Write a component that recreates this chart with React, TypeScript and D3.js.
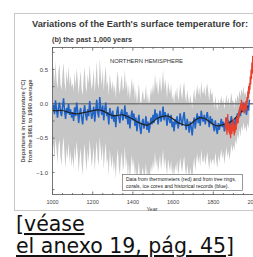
import React, { useEffect, useRef } from 'react';
import * as d3 from 'd3';

// proxy reconstruction, every 5 years 1000-1980
const proxyYears = d3.range(1000, 1981, 5);
const proxyTemp = [
  -0.10, -0.02, -0.15, 0.05, -0.08, -0.20, -0.05, 0.02, -0.12, -0.18, -0.04, 0.08, -0.10, -0.22, -0.06, -0.14, 0.00, -0.16, -0.08, -0.20,
  -0.12, -0.25, -0.05, -0.18, 0.02, -0.10, -0.28, -0.14, -0.06, -0.20, -0.30, -0.12, -0.02, -0.16, -0.24, -0.08, -0.18, 0.04, -0.10, -0.22,
  -0.14, -0.04, -0.26, -0.10, 0.06, -0.12, -0.20, 0.10, -0.06, -0.16, -0.02, -0.24, -0.08, 0.02, -0.18, -0.12, -0.30, -0.06, -0.14, -0.22,
  -0.10, -0.26, -0.16, -0.34, -0.12, -0.04, -0.20, -0.28, -0.14, -0.08, -0.24, -0.18, -0.02, -0.22, -0.12, -0.30, -0.16, -0.36, -0.20, -0.10,
  -0.24, -0.14, -0.32, -0.20, -0.40, -0.26, -0.16, -0.34, -0.44, -0.28, -0.22, -0.36, -0.30, -0.18, -0.38, -0.26, -0.42, -0.32, -0.20, -0.30,
  -0.16, -0.28, -0.08, -0.22, -0.14, -0.30, -0.20, -0.10, -0.26, -0.18, -0.04, -0.24, -0.12, -0.20, -0.32, -0.14, -0.22, -0.28, -0.16, -0.34,
  -0.26, -0.40, -0.22, -0.30, -0.18, -0.36, -0.28, -0.14, -0.24, -0.32, -0.20, -0.12, -0.28, -0.38, -0.22, -0.30, -0.42, -0.26, -0.34, -0.46,
  -0.30, -0.20, -0.36, -0.24, -0.14, -0.28, -0.18, -0.32, -0.10, -0.22, -0.26, -0.16, -0.30, -0.20, -0.12, -0.24, -0.34, -0.18, -0.28, -0.22,
  -0.32, -0.40, -0.24, -0.36, -0.44, -0.28, -0.38, -0.30, -0.22, -0.34, -0.26, -0.40, -0.30, -0.20, -0.32, -0.24, -0.36, -0.28, -0.18, -0.30,
  -0.26, -0.34, -0.20, -0.28, -0.14, -0.22, -0.08, -0.18, -0.04, -0.12, 0.02, -0.10, -0.06, -0.16, -0.02, -0.10, 0.06,
];
const rangeHigh = [
  0.40, 0.55, 0.30, 0.62, 0.35, 0.22, 0.48, 0.58, 0.28, 0.20, 0.45, 0.60, 0.32, 0.18, 0.50, 0.30, 0.56, 0.26, 0.42, 0.24,
  0.30, 0.18, 0.46, 0.24, 0.52, 0.36, 0.14, 0.32, 0.48, 0.22, 0.12, 0.38, 0.54, 0.26, 0.16, 0.44, 0.28, 0.58, 0.34, 0.20,
  0.32, 0.50, 0.16, 0.36, 0.62, 0.30, 0.22, 0.66, 0.42, 0.26, 0.52, 0.18, 0.40, 0.56, 0.24, 0.34, 0.12, 0.44, 0.30, 0.20,
  0.34, 0.16, 0.28, 0.08, 0.36, 0.48, 0.24, 0.14, 0.32, 0.42, 0.18, 0.26, 0.50, 0.20, 0.34, 0.10, 0.28, 0.06, 0.22, 0.38,
  0.18, 0.32, 0.06, 0.22, 0.00, 0.14, 0.30, 0.08, -0.04, 0.12, 0.20, 0.04, 0.10, 0.28, 0.02, 0.16, -0.02, 0.10, 0.24, 0.12,
  0.30, 0.14, 0.44, 0.22, 0.34, 0.12, 0.24, 0.40, 0.16, 0.28, 0.50, 0.20, 0.36, 0.26, 0.08, 0.32, 0.22, 0.14, 0.30, 0.06,
  0.14, 0.00, 0.20, 0.10, 0.26, 0.04, 0.12, 0.30, 0.16, 0.06, 0.22, 0.32, 0.12, 0.02, 0.20, 0.10, -0.02, 0.14, 0.04, -0.06,
  0.10, 0.22, 0.04, 0.16, 0.28, 0.12, 0.24, 0.08, 0.32, 0.18, 0.14, 0.26, 0.10, 0.22, 0.30, 0.16, 0.04, 0.24, 0.12, 0.18,
  0.04, -0.06, 0.12, 0.00, -0.10, 0.08, -0.04, 0.04, 0.12, 0.00, 0.08, -0.08, 0.02, 0.14, 0.00, 0.10, -0.04, 0.06, 0.16, 0.04,
  0.04, -0.06, 0.10, 0.02, 0.14, 0.06, 0.20, 0.10, 0.22, 0.14, 0.26, 0.12, 0.18, 0.08, 0.22, 0.14, 0.28,
];
const rangeLow = [
  -0.70, -0.58, -0.82, -0.50, -0.66, -0.88, -0.60, -0.52, -0.78, -0.90, -0.62, -0.48, -0.74, -0.94, -0.64, -0.80, -0.56, -0.86, -0.68, -0.92,
  -0.76, -0.96, -0.62, -0.84, -0.54, -0.72, -1.00, -0.80, -0.64, -0.88, -1.04, -0.74, -0.58, -0.82, -0.98, -0.66, -0.86, -0.52, -0.70, -0.92,
  -0.78, -0.62, -0.98, -0.74, -0.54, -0.80, -0.90, -0.48, -0.68, -0.84, -0.60, -0.96, -0.72, -0.56, -0.88, -0.78, -1.06, -0.66, -0.82, -0.94,
  -0.74, -1.00, -0.84, -1.10, -0.80, -0.66, -0.92, -1.04, -0.82, -0.70, -0.98, -0.88, -0.62, -0.94, -0.78, -1.08, -0.86, -1.14, -0.90, -0.74,
  -0.94, -0.80, -1.06, -0.92, -1.16, -0.98, -0.84, -1.08, -1.20, -1.00, -0.92, -1.10, -1.02, -0.86, -1.12, -0.96, -1.18, -1.04, -0.88, -1.00,
  -0.82, -0.96, -0.70, -0.92, -0.80, -1.00, -0.88, -0.74, -0.96, -0.84, -0.66, -0.94, -0.78, -0.90, -1.04, -0.80, -0.90, -0.98, -0.82, -1.04,
  -0.92, -1.08, -0.88, -0.98, -0.82, -1.04, -0.94, -0.78, -0.90, -1.00, -0.86, -0.76, -0.94, -1.06, -0.88, -0.98, -1.10, -0.92, -1.02, -1.14,
  -0.90, -0.78, -0.98, -0.84, -0.72, -0.88, -0.76, -0.92, -0.66, -0.82, -0.86, -0.74, -0.90, -0.80, -0.70, -0.84, -0.96, -0.78, -0.88, -0.82,
  -0.80, -0.90, -0.70, -0.84, -0.94, -0.74, -0.86, -0.76, -0.66, -0.80, -0.70, -0.88, -0.76, -0.62, -0.78, -0.68, -0.82, -0.72, -0.58, -0.70,
  -0.60, -0.68, -0.52, -0.60, -0.44, -0.52, -0.36, -0.48, -0.32, -0.40, -0.26, -0.38, -0.32, -0.42, -0.28, -0.36, -0.20,
];

// 50-year smoothed curve, every 25 years
const smoothYears = d3.range(1000, 1976, 25);
const smoothTemp = [
  -0.10, -0.10, -0.09, -0.12, -0.14, -0.15, -0.13, -0.12, -0.10, -0.08,
  -0.10, -0.14, -0.18, -0.17, -0.15, -0.19, -0.22, -0.27, -0.30, -0.32,
  -0.26, -0.20, -0.18, -0.17, -0.22, -0.28, -0.30, -0.33, -0.26, -0.20,
  -0.20, -0.24, -0.31, -0.33, -0.30, -0.28, -0.24, -0.16, -0.08, -0.04,
];

// thermometer record, every 2 years 1860-2000
const thermoYears = d3.range(1860, 2001, 2);
const thermoTemp = [
  -0.35, -0.20, -0.40, -0.25, -0.45, -0.30, -0.15, -0.38, -0.28, -0.42,
  -0.30, -0.45, -0.32, -0.50, -0.36, -0.28, -0.44, -0.34, -0.40, -0.26,
  -0.22, -0.38, -0.46, -0.30, -0.42, -0.34, -0.26, -0.38, -0.20, -0.30,
  -0.24, -0.16, -0.28, -0.12, -0.20, -0.10, -0.04, -0.14, 0.00, -0.08,
  0.06, -0.04, -0.10, 0.02, -0.06, -0.12, -0.02, -0.14, 0.00, -0.08,
  -0.04, 0.04, -0.10, -0.02, 0.10, 0.02, 0.18, 0.08, 0.26, 0.14,
  0.30, 0.20, 0.40, 0.28, 0.50, 0.36, 0.60, 0.44, 0.70, 0.52, 0.62,
];

const xTicks = [1000, 1200, 1400, 1600, 1800, 2000];
const yTicks = [0.5, 0.0, -0.5, -1.0];
const yTitleLines = ['Departures in temperature (°C)', 'from the 1961 to 1990 average'];
const legendLines = [
  'Data from thermometers (red) and from tree rings,',
  'corals, ice cores and historical records (blue).',
];

const W = 253;
const H = 257;

const App: React.FC = () => {
  const ref = useRef<SVGSVGElement>(null);

  useEffect(() => {
    if (!ref.current) return;
    const svg = d3.select(ref.current);
    svg.selectAll('*').remove();

    const plot = { left: 52.5, top: 47.5, right: 253.5, bottom: 194.5 };
    const x = d3.scaleLinear().domain([1000, 2000]).range([plot.left, plot.right]);
    const y = d3.scaleLinear().domain([-1, 0.5]).range([172.5, 69.5]);
    const font = 'Liberation Sans, Arial, sans-serif';

    // image border
    svg.append('rect')
      .attr('x', 14.5).attr('y', 13.5)
      .attr('width', 250).attr('height', 197)
      .attr('fill', '#fff').attr('stroke', '#c8c8c8');

    svg.append('text')
      .attr('x', 32).attr('y', 27)
      .attr('font-family', font).attr('font-size', 8.5).attr('font-weight', 'bold')
      .attr('fill', '#3a3a3a')
      .attr('textLength', 216).attr('lengthAdjust', 'spacingAndGlyphs')
      .text("Variations of the Earth's surface temperature for:");
    svg.append('text')
      .attr('x', 52).attr('y', 42)
      .attr('font-family', font).attr('font-size', 7.5).attr('font-weight', 'bold')
      .attr('fill', '#3a3a3a')
      .attr('textLength', 80).attr('lengthAdjust', 'spacingAndGlyphs')
      .text('(b) the past 1,000 years');

    svg.append('clipPath').attr('id', 'plotclip')
      .append('rect')
      .attr('x', plot.left).attr('y', plot.top)
      .attr('width', plot.right - plot.left).attr('height', plot.bottom - plot.top);

    const g = svg.append('g').attr('clip-path', 'url(#plotclip)');

    // uncertainty range
    const band = d3.area<number>()
      .x((d, i) => x(proxyYears[i]))
      .y0((d, i) => y(rangeLow[i]))
      .y1(d => y(d));
    g.append('path')
      .datum(rangeHigh)
      .attr('d', band)
      .attr('fill', '#c6c6c6');

    // zero line
    g.append('line')
      .attr('x1', plot.left).attr('x2', plot.right)
      .attr('y1', y(0)).attr('y2', y(0))
      .attr('stroke', '#7a7a7a').attr('stroke-width', 1.5);

    const line = (years: number[]) => d3.line<number>()
      .x((d, i) => x(years[i]))
      .y(d => y(d));

    g.append('path')
      .datum(proxyTemp)
      .attr('d', line(proxyYears))
      .attr('fill', 'none').attr('stroke', '#1f63c6').attr('stroke-width', 1.5);

    g.append('path')
      .datum(smoothTemp)
      .attr('d', line(smoothYears).curve(d3.curveBasis))
      .attr('fill', 'none').attr('stroke', '#222').attr('stroke-width', 1.2);

    g.append('path')
      .datum(thermoTemp)
      .attr('d', line(thermoYears))
      .attr('fill', 'none').attr('stroke', '#e8402c').attr('stroke-width', 1.3);

    // frame
    svg.append('rect')
      .attr('x', plot.left).attr('y', plot.top)
      .attr('width', plot.right - plot.left).attr('height', plot.bottom - plot.top)
      .attr('fill', 'none').attr('stroke', '#555').attr('stroke-width', 0.8);

    // x ticks
    const minorX = d3.range(1000, 2001, 50);
    svg.append('g').selectAll('line')
      .data(minorX)
      .enter().append('line')
      .attr('x1', d => x(d)).attr('x2', d => x(d))
      .attr('y1', plot.bottom).attr('y2', d => plot.bottom - (d % 200 === 0 ? 3 : 1.5))
      .attr('stroke', '#555').attr('stroke-width', 0.8);
    svg.append('g').selectAll('line')
      .data(minorX)
      .enter().append('line')
      .attr('x1', d => x(d)).attr('x2', d => x(d))
      .attr('y1', plot.top).attr('y2', d => plot.top + (d % 200 === 0 ? 3 : 1.5))
      .attr('stroke', '#555').attr('stroke-width', 0.8);
    svg.append('g').selectAll('text')
      .data(xTicks)
      .enter().append('text')
      .attr('x', d => x(d)).attr('y', 204)
      .attr('text-anchor', 'middle')
      .attr('font-family', font).attr('font-size', 5.5)
      .attr('fill', '#444')
      .text(d => d);
    svg.append('text')
      .attr('x', 152).attr('y', 211)
      .attr('text-anchor', 'middle')
      .attr('font-family', font).attr('font-size', 5.5)
      .attr('fill', '#444')
      .text('Year');

    // y ticks
    const minorY = d3.range(-1.25, 0.8, 0.25);
    svg.append('g').selectAll('line')
      .data(minorY)
      .enter().append('line')
      .attr('x1', plot.left).attr('x2', plot.left + 2)
      .attr('y1', d => y(d)).attr('y2', d => y(d))
      .attr('stroke', '#555').attr('stroke-width', 0.8);
    svg.append('g').selectAll('text')
      .data(yTicks)
      .enter().append('text')
      .attr('x', 48).attr('y', d => y(d))
      .attr('dy', '0.35em')
      .attr('text-anchor', 'end')
      .attr('font-family', font).attr('font-size', 6)
      .attr('fill', '#444')
      .text(d => d3.format('.1f')(d).replace('-', '–'));

    svg.append('g').selectAll('text')
      .data(yTitleLines)
      .enter().append('text')
      .attr('transform', (d, i) => `translate(${25 + i * 6.5},121) rotate(-90)`)
      .attr('text-anchor', 'middle')
      .attr('font-family', font).attr('font-size', 5.5).attr('font-weight', 'bold')
      .attr('fill', '#555')
      .attr('textLength', 83).attr('lengthAdjust', 'spacingAndGlyphs')
      .text(d => d);

    svg.append('text')
      .attr('x', 110).attr('y', 63)
      .attr('font-family', font).attr('font-size', 5.5)
      .attr('fill', '#333')
      .attr('textLength', 73).attr('lengthAdjust', 'spacingAndGlyphs')
      .text('NORTHERN HEMISPHERE');

    // legend box
    svg.append('rect')
      .attr('x', 122.5).attr('y', 174.5).attr('width', 120).attr('height', 16)
      .attr('fill', '#fff').attr('stroke', '#555').attr('stroke-width', 0.6);
    svg.append('g').selectAll('text')
      .data(legendLines)
      .enter().append('text')
      .attr('x', 126).attr('y', (d, i) => 181 + i * 7)
      .attr('font-family', font).attr('font-size', 4.6)
      .attr('fill', '#222')
      .attr('textLength', (d, i) => (i === 0 ? 110 : 103)).attr('lengthAdjust', 'spacingAndGlyphs')
      .text(d => d);

    // caption link
    const cap = svg.append('g')
      .attr('font-family', 'DejaVu Sans, Verdana, sans-serif')
      .attr('font-size', 20.5)
      .attr('fill', '#111');
    const l1 = cap.append('text').attr('x', 16).attr('y', 231);
    l1.append('tspan').text('[');
    l1.append('tspan').attr('text-decoration', 'underline').text('véase');
    const l2 = cap.append('text').attr('x', 16).attr('y', 253);
    l2.append('tspan').attr('text-decoration', 'underline').text('el anexo 19, pág. 45');
    l2.append('tspan').text(']');
  }, []);

  return (
    <svg
      ref={ref}
      width={W}
      height={H}
      style={{ position: 'absolute', left: 0, top: 0, background: '#fff' }}
    />
  );
};

export default App;
